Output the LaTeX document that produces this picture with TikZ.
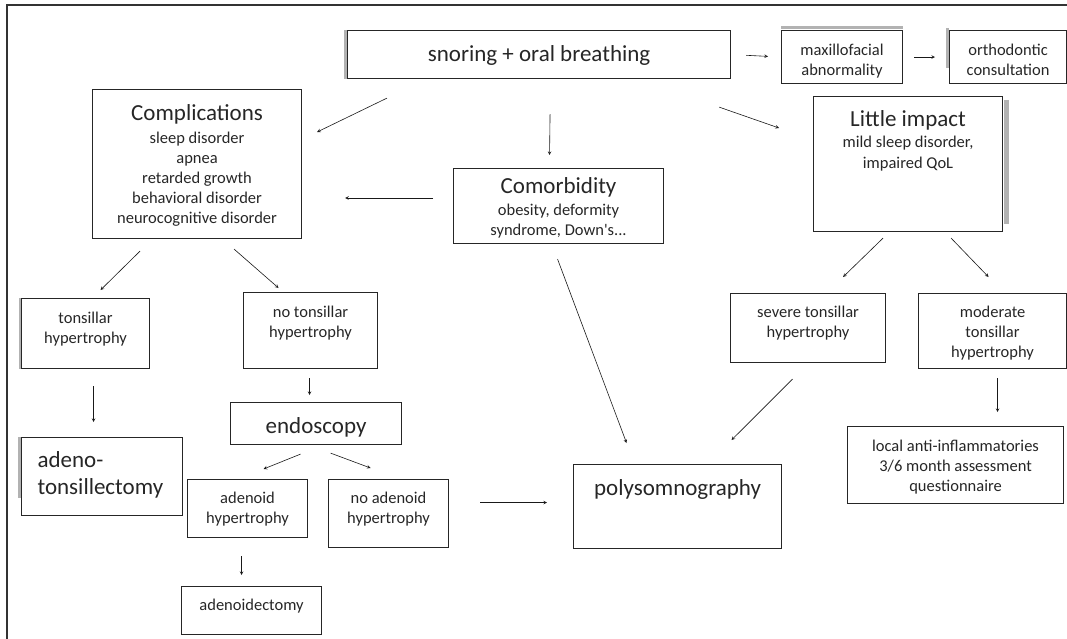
\documentclass[tikz,border=0pt]{standalone}
\usepackage{fontspec}
\setmainfont{Carlito}
\usetikzlibrary{shapes,arrows,positioning,calc}
\newcommand{\boxtitle}[1]{{\fontsize{23}{27}\selectfont #1}}

\begin{document}
\begin{tikzpicture}[x=1pt, y=-1pt,
  flowbox/.style={draw=black!85, line width=1.1pt, text=black!85, anchor=north west, align=center,
    inner xsep=0pt, inner ysep=0pt, font=\fontsize{16.5}{20}\selectfont},
  link/.style={->, >=stealth, line width=0.6pt, black!90},
  edgebar/.style={draw=black!30, line width=3pt}]
\useasboundingbox (0,0) rectangle (1067,639);
% frame
\draw[black!80, line width=1.1pt] (7,639) -- (7,5) -- (1067,5);

% top row
\node[flowbox, minimum width=383pt, text height=31pt, text depth=17pt] (snore) at (347,30) {\boxtitle{snoring + oral breathing}};
\node[flowbox, minimum width=121pt, text height=45pt, text depth=8pt] (maxfac) at (781,30) {maxillofacial\\abnormality};
\node[flowbox, minimum width=117pt, text height=45pt, text depth=8pt] (ortho) at (949,30) {orthodontic\\consultation};

% second row
\node[flowbox, minimum width=209pt, text height=134pt, text depth=15pt] (complic) at (92,89) {\boxtitle{Complications}\\[3pt] sleep disorder\\apnea\\retarded growth\\behavioral disorder\\neurocognitive disorder};
\node[flowbox, minimum width=210pt, text height=67pt, text depth=8pt] (comorb) at (453,168) {\boxtitle{Comorbidity}\\[2pt] obesity, deformity\\syndrome, Down\textquotesingle s...};
\node[flowbox, minimum width=189pt, text height=72pt, text depth=63pt] (impact) at (813,96) {\boxtitle{Little impact}\\[1pt] mild sleep disorder,\\[1pt] impaired QoL};

% left branch
\node[flowbox, minimum width=128pt, text height=45pt, text depth=25pt] (tonsil) at (21,298) {tonsillar\\hypertrophy};
\node[flowbox, minimum width=134pt, text height=45pt, text depth=31pt] (notonsil) at (243,292) {no tonsillar\\hypertrophy};
\node[flowbox, align=left, inner xsep=16pt, text width=129pt, text height=30pt, text depth=48pt,
  font=\fontsize{23}{27}\selectfont] (adenotons) at (21,437) {adeno-\\tonsillectomy};
\node[flowbox, minimum width=171pt, text height=31pt, text depth=11pt] (endo) at (230,402) {\boxtitle{endoscopy}};
\node[flowbox, minimum width=120pt, text height=44pt, text depth=14pt] (adenoid) at (187,479) {adenoid\\hypertrophy};
\node[flowbox, minimum width=120pt, text height=44pt, text depth=24pt] (noadenoid) at (328,479) {no adenoid\\hypertrophy};
\node[flowbox, minimum width=140pt, text height=24pt, text depth=24pt] (adenoidect) at (181,586) {adenoidectomy};

% middle and right branch
\node[flowbox, minimum width=208pt, text height=31pt, text depth=53pt] (polysom) at (573,464) {\boxtitle{polysomnography}};
\node[flowbox, minimum width=155pt, text height=44pt, text depth=25pt] (severe) at (730,293) {severe tonsillar\\hypertrophy};
\node[flowbox, minimum width=148pt, text height=64pt, text depth=11pt] (moderate) at (918,293) {moderate\\tonsillar\\hypertrophy};
\node[flowbox, minimum width=216pt, text height=65pt, text depth=12pt] (antiinfl) at (847,426) {local anti-inflammatories\\3/6 month assessment\\questionnaire};

% grey edges
\draw[edgebar] ([xshift=-2pt]snore.north west) -- ([xshift=-2pt]snore.south west);
\draw[edgebar] ([yshift=2pt]maxfac.north west) -- ([yshift=2pt]maxfac.north east);
\draw[edgebar] ([xshift=-2pt,yshift=2pt]ortho.north west) -- ([xshift=-2pt,yshift=16pt]ortho.south west);
\draw[edgebar, line width=5pt] ([xshift=3.5pt,yshift=-4pt]impact.north east) -- ([xshift=3.5pt,yshift=8pt]impact.south east);
\draw[edgebar, line width=2pt] ([xshift=-1.5pt]tonsil.north west) -- ([xshift=-1.5pt]tonsil.south west);
\draw[edgebar] ([xshift=-2pt]adenotons.north west) -- ([xshift=-2pt,yshift=18pt]adenotons.south west);

% arrows
\draw[link, shorten <=15pt, shorten >=13pt] (snore.east) -- (maxfac.west);
\draw[link, shorten <=11pt, shorten >=14pt] (maxfac.east) -- (ortho.west);
\draw[link] ($(snore.south west)+(40,19)$) -- ($(complic.north east)+(15,43)$);
\draw[link] ($(snore.south)+(11,35)$) -- ($(comorb.north)+(-9,-13)$);
\draw[link] ($(comorb.west)+(-20,-8)$) -- ($(complic.east)+(43,34)$);
\draw[link] ($(snore.south east)+(-12,28)$) -- ($(impact.north west)+(-34,32)$);
\draw[link] ($(impact.south)+(-25,6)$) -- ($(severe.north)+(35,-16)$);
\draw[link] ($(impact.south)+(43,6)$) -- ($(moderate.north)+(-4,-16)$);
\draw[link] ($(complic.south)+(-57,12)$) -- ($(tonsil.north)+(15,-8)$);
\draw[link] ($(complic.south)+(37,10)$) -- ($(notonsil.north)+(-32,-4)$);
\draw[link] ($(tonsil.south)+(8,17)$) -- ($(adenotons.north)+(-8.5,-15)$);
\draw[link] ($(notonsil.south)+(-1,9)$) -- ($(endo.north)+(-6.5,-7)$);
\draw[link] ($(endo.south)+(-15.5,9)$) -- ($(adenoid.north)+(16,-10)$);
\draw[link] ($(endo.south)+(14.5,8)$) -- ($(noadenoid.north)+(-18,-11)$);
\draw[link] ($(adenoid.south)+(-6,18)$) -- ($(adenoidect.north)+(-10,-11)$);
\draw[link] ($(noadenoid.east)+(31,-11)$) -- ($(polysom.west)+(-26,-4)$);
\draw[link] ($(comorb.south)+(-1,15)$) -- ($(polysom.north)+(-51,-21)$);
\draw[link] ($(severe.south)+(-15.5,16)$) -- ($(polysom.north)+(54,-24)$);
\draw[link] ($(moderate.south)+(5,9)$) -- ($(antiinfl.north)+(42,-14)$);
\end{tikzpicture}
\end{document}
